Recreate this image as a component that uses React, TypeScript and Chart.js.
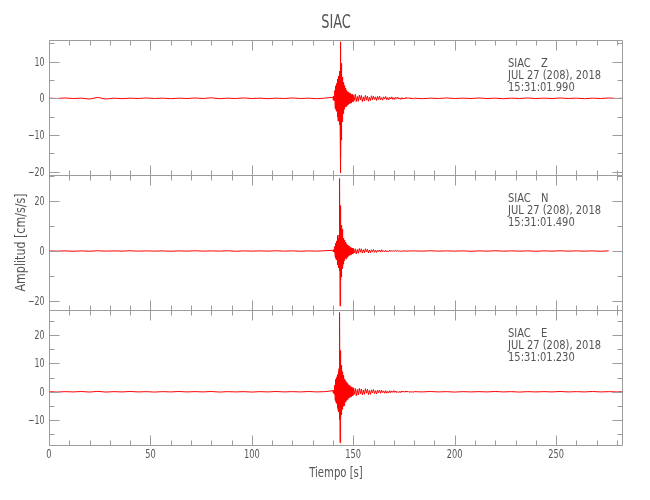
import React, { useEffect, useRef } from 'react';
import { Chart, registerables } from 'chart.js';

Chart.register(...registerables);

// ---------- text ----------
const stationName = 'SIAC';
const channelNames = ['Z', 'N', 'E'];
const dateLabel = 'JUL 27 (208), 2018';
const startTimes = ['15:31:01.990', '15:31:01.490', '15:31:01.230'];
const xTitle = 'Tiempo [s]';
const yTitle = 'Amplitud [cm/s/s]';

// ---------- axes ----------
const xMin = 0;
const xMax = 283;
const xTicks = [0, 50, 100, 150, 200, 250];
const zTicks = [10, 0, -10, -20];
const nTicks = [20, 0, -20];
const eTicks = [20, 10, 0, -10];
const zRange = [-20.9, 15.9];
const nRange = [-23.6, 30.4];
const eRange = [-18.8, 28.9];

// ---------- sampling of the hand-read segments (start time, step in s) ----------
const preSeg = [0, 4];
const eventSeg = [140, 0.1];
const codaSeg = [150, 0.5];
const postSeg = [180, 4];

// ---------- Z channel ----------
const zPre = [
  0.05, -0.05, 0.1, -0.05, 0.05,
  -0.2, 0.25, -0.2, 0.05, -0.1,
  0.05, -0.05, 0.1, -0.05, 0.05,
  -0.1, 0.05, -0.05, 0.1, -0.05,
  0.15, -0.1, 0.05, -0.05, 0.1,
  -0.05, 0.05, -0.1, 0.05, -0.05,
  0.1, -0.05, 0.05, -0.1, 0.05,
];
const zEvent = [
  0.3, -0.4, 0.5, -0.3, 0.6, -0.5, 0.4, -0.6, 0.8, -0.7,
  2.1, -2.8, 3.4, -1.9, 2.6, -3.1, 3.8, -2.4, 2.9, -3.5,
  4.2, -5.1, 3.6, -4.4, 5.3, -6.2, 4.8, -3.9, 6.1, -5.4,
  5.5, -7.2, 6.8, -4.6, 7.4, -6.1, 15.4, -20.3, 12.1, -16.2,
  9.5, -11.4, 7.2, -8.1, 6.3, -5.2, 4.9, -6.4, 5.8, -4.1,
  4.4, -3.9, 3.6, -4.2, 3.1, -2.8, 3.5, -3.0, 2.7, -2.4,
  2.5, -2.1, 2.8, -2.3, 1.9, -2.2, 2.0, -1.7, 2.2, -1.8,
  1.6, -1.9, 1.8, -1.4, 1.5, -1.6, 1.3, -1.5, 1.7, -1.2,
  1.4, -1.3, 1.2, -1.5, 1.1, -1.2, 1.3, -1.0, 1.2, -1.1,
  1.0, -1.1, 0.9, -1.2, 1.1, -0.9, 1.0, -0.8, 0.9, -1.0,
];
const zCoda = [
  0.9, -0.6, 1.1, -0.9, 0.5, -0.8, 0.9, -0.4, 0.8, -0.9,
  0.4, -0.7, 0.8, -0.5, 0.6, -0.8, 0.3, -0.6, 0.7, -0.4,
  0.6, -0.3, 0.4, -0.6, 0.5, -0.3, 0.6, -0.4, 0.2, -0.5,
  0.4, -0.2, 0.5, -0.4, 0.2, -0.4, 0.3, -0.2, 0.4, -0.3,
  0.2, -0.3, 0.3, -0.1, 0.3, -0.2, 0.1, -0.3, 0.2, -0.2,
  0.1, -0.2, 0.3, -0.1, 0.2, -0.1, 0.2, -0.2, 0.1, -0.2,
];
const zPost = [
  0.05, -0.1, 0.05, -0.05, 0.1,
  -0.05, 0.05, -0.05, 0.1, -0.05,
  0.05, -0.1, 0.05, -0.05, 0.1,
  -0.05, 0.05, -0.05, 0.1, -0.05,
  0.05, -0.1, 0.05, -0.05, 0.1,
  -0.05, 0.05,
];

// ---------- N channel ----------
const nPre = [
  0.05, -0.05, 0.05, -0.1, 0.05,
  -0.1, 0.1, -0.05, 0.05, -0.05,
  0.1, -0.05, 0.05, -0.05, 0.05,
  -0.1, 0.05, -0.05, 0.1, -0.05,
  0.05, -0.05, 0.1, -0.1, 0.05,
  -0.05, 0.05, -0.05, 0.1, -0.05,
  0.05, -0.1, 0.05, -0.05, 0.1,
];
const nEvent = [
  0.3, -0.2, 0.4, -0.3, 0.5, -0.4, 0.6, -0.5, 0.7, -0.6,
  1.8, -2.4, 3.1, -2.7, 2.2, -3.3, 3.9, -2.6, 2.8, -3.5,
  4.1, -4.8, 3.5, -5.6, 6.2, -4.3, 5.1, -6.8, 4.6, -5.2,
  6.4, -7.9, 8.5, -5.8, 29.0, -22.0, 18.2, -15.1, 12.4, -11.6,
  10.3, -9.2, 8.1, -10.4, 7.3, -6.5, 8.8, -7.1, 5.9, -6.2,
  5.2, -4.8, 4.6, -5.3, 4.1, -3.7, 4.4, -3.9, 3.5, -3.2,
  3.3, -2.9, 3.6, -2.7, 2.8, -3.1, 2.5, -2.4, 2.9, -2.2,
  2.4, -2.1, 2.2, -2.5, 1.9, -2.0, 2.1, -1.8, 1.7, -1.9,
  1.8, -1.6, 1.5, -1.7, 1.6, -1.4, 1.3, -1.5, 1.4, -1.2,
  1.3, -1.2, 1.1, -1.3, 1.2, -1.0, 1.1, -1.1, 0.9, -1.0,
];
const nCoda = [
  1.1, -0.7, 0.9, -1.2, 0.6, -0.9, 1.0, -0.5, 0.9, -0.8,
  0.5, -0.7, 0.9, -0.4, 0.7, -0.8, 0.4, -0.7, 0.5, -0.3,
  0.6, -0.5, 0.3, -0.6, 0.4, -0.2, 0.4, -0.4, 0.5, -0.3,
  0.2, -0.3, 0.3, -0.4, 0.1, -0.3, 0.3, -0.2, 0.2, -0.1,
  0.2, -0.2, 0.3, -0.1, 0.2, -0.2, 0.1, -0.2, 0.1, -0.2,
  0.2, -0.1, 0.1, -0.2, 0.1, -0.1, 0.1, -0.1, 0.2, -0.1,
];
const nPost = [
  0.05, -0.05, 0.1, -0.05, 0.05,
  -0.05, 0.05, -0.1, 0.05, -0.05,
  0.1, -0.05, 0.05, -0.05, 0.05,
  -0.1, 0.05, -0.05, 0.1, -0.05,
  0.05, -0.05, 0.05, -0.1, 0.05,
];

// ---------- E channel ----------
const ePre = [
  0.05, -0.1, 0.05, -0.05, 0.1,
  -0.1, 0.15, -0.1, 0.05, -0.05,
  0.1, -0.05, 0.05, -0.1, 0.05,
  -0.05, 0.1, -0.05, 0.05, -0.05,
  0.1, -0.1, 0.05, -0.05, 0.05,
  -0.1, 0.05, -0.05, 0.1, -0.05,
  0.05, -0.05, 0.1, -0.05, 0.05,
];
const eEvent = [
  0.4, -0.3, 0.5, -0.4, 0.6, -0.5, 0.7, -0.6, 0.8, -0.9,
  2.4, -3.1, 3.8, -2.6, 4.4, -3.7, 3.2, -4.1, 4.9, -3.6,
  5.3, -4.7, 6.1, -5.8, 4.9, -6.4, 7.2, -5.5, 6.6, -7.1,
  8.2, -6.9, 13.1, -9.8, 28.0, -18.0, 14.6, -10.3, 11.2, -8.9,
  9.4, -8.1, 7.6, -7.3, 8.3, -6.2, 6.8, -5.9, 7.1, -5.4,
  5.8, -5.1, 5.3, -4.6, 4.8, -4.9, 4.2, -3.8, 4.5, -3.6,
  3.9, -3.4, 3.5, -3.7, 3.2, -2.9, 3.4, -3.1, 2.8, -2.7,
  2.9, -2.5, 2.6, -2.8, 2.4, -2.2, 2.5, -2.3, 2.1, -2.0,
  2.2, -1.9, 2.0, -2.1, 1.8, -1.7, 1.9, -1.8, 1.6, -1.7,
  1.7, -1.5, 1.6, -1.6, 1.4, -1.5, 1.5, -1.3, 1.4, -1.2,
];
const eCoda = [
  1.4, -0.9, 1.2, -1.4, 0.8, -1.1, 1.2, -0.7, 1.0, -1.1,
  0.6, -0.9, 1.1, -0.5, 0.9, -1.0, 0.5, -0.9, 0.7, -0.4,
  0.8, -0.6, 0.4, -0.8, 0.6, -0.3, 0.6, -0.5, 0.6, -0.3,
  0.3, -0.5, 0.4, -0.5, 0.2, -0.4, 0.4, -0.3, 0.3, -0.2,
  0.4, -0.2, 0.3, -0.3, 0.1, -0.3, 0.2, -0.3, 0.3, -0.1,
  0.2, -0.2, 0.3, -0.1, 0.2, -0.2, 0.1, -0.2, 0.1, -0.2,
];
const ePost = [
  0.05, -0.05, 0.1, -0.05, 0.05,
  -0.1, 0.05, -0.05, 0.05, -0.05,
  0.1, -0.05, 0.05, -0.1, 0.05,
  -0.05, 0.05, -0.05, 0.1, -0.05,
  0.05, -0.05, 0.1, -0.05, 0.05,
  -0.05, 0.05,
];

// ---------- style ----------
const FONT = "'DejaVu Sans Condensed', 'DejaVu Sans', sans-serif";
const AXIS_COLOR = '#9c9c9c';
const TEXT_COLOR = '#555555';
const WAVE_COLOR = '#ff0000';
const panelIds = ['yZ', 'yN', 'yE'];
const majorSteps = [10, 20, 10];
const minorSteps = [5, 10, 5];

function segment(values: number[], seg: number[]) {
  return values.map((v, i) => ({ x: seg[0] + i * seg[1], y: v }));
}
function trace(pre: number[], ev: number[], coda: number[], post: number[]) {
  return [
    ...segment(pre, preSeg),
    ...segment(ev, eventSeg),
    ...segment(coda, codaSeg),
    ...segment(post, postSeg),
  ];
}

function drawText(
  ctx: CanvasRenderingContext2D,
  text: string,
  x: number,
  y: number,
  size: number,
  sx: number,
  align: CanvasTextAlign,
  baseline: CanvasTextBaseline = 'alphabetic',
) {
  ctx.save();
  ctx.translate(x, y);
  ctx.scale(sx, 1);
  ctx.font = `${size}px ${FONT}`;
  ctx.textAlign = align;
  ctx.textBaseline = baseline;
  ctx.fillText(text, 0, 0);
  ctx.restore();
}

const fmt = (v: number) => String(v).replace('-', '\u2212');

const idlPlugin = {
  id: 'idlPanels',
  afterDatasetsDraw(chart: any) {
    const ctx = chart.ctx as CanvasRenderingContext2D;
    const area = chart.chartArea;
    const xs = chart.scales.x;
    ctx.save();
    ctx.strokeStyle = AXIS_COLOR;
    ctx.fillStyle = TEXT_COLOR;
    ctx.lineWidth = 1;
    const left = Math.round(area.left) + 0.5;
    const right = Math.round(area.right) - 0.5;
    panelIds.forEach((id, k) => {
      const ys = chart.scales[id];
      const top = Math.round(ys.top) + 0.5;
      const bottom = Math.round(ys.bottom) + 0.5;
      ctx.beginPath();
      ctx.rect(left, top, right - left, bottom - top);
      for (let v = xMin; v <= xMax; v += 10) {
        const px = Math.round(xs.getPixelForValue(v)) + 0.5;
        const len = v % 50 === 0 ? 10 : 5;
        ctx.moveTo(px, top);
        ctx.lineTo(px, top + len);
        ctx.moveTo(px, bottom);
        ctx.lineTo(px, bottom - len);
      }
      const minor = minorSteps[k];
      const major = majorSteps[k];
      for (let v = Math.ceil(ys.min / minor) * minor; v <= ys.max; v += minor) {
        const py = Math.round(ys.getPixelForValue(v)) + 0.5;
        const len = Math.abs(v % major) < 1e-6 ? 10 : 5;
        ctx.moveTo(left, py);
        ctx.lineTo(left + len, py);
        ctx.moveTo(right, py);
        ctx.lineTo(right - len, py);
      }
      ctx.stroke();

      // y tick labels from the scale's ticks
      ys.ticks.forEach((t: any) => {
        const py = ys.getPixelForValue(t.value);
        drawText(ctx, fmt(t.value), area.left - 4.5, py + 4, 11.5, 0.76, 'right');
      });

      // station / channel annotation
      const tx = area.right - 115;
      drawText(ctx, stationName, tx, ys.top + 27, 13, 0.85, 'left');
      drawText(ctx, channelNames[k], tx + 33, ys.top + 27, 13, 0.85, 'left');
      drawText(ctx, dateLabel, tx, ys.top + 39, 13, 0.85, 'left');
      drawText(ctx, startTimes[k], tx, ys.top + 51, 13, 0.85, 'left');
    });

    // x tick labels
    xs.ticks.forEach((t: any) => {
      const px = xs.getPixelForValue(t.value);
      drawText(ctx, fmt(t.value), px, area.bottom + 13, 11.5, 0.8, 'center');
    });

    // axis titles
    drawText(ctx, xTitle, (area.left + area.right) / 2, 477, 14, 0.8, 'center');
    const yn = chart.scales.yN;
    ctx.save();
    ctx.translate(21, (yn.top + yn.bottom) / 2);
    ctx.rotate(-Math.PI / 2);
    drawText(ctx, yTitle, 0, 0, 14, 0.88, 'center', 'middle');
    ctx.restore();

    // main title
    drawText(ctx, stationName, (area.left + area.right) / 2, 28, 20, 0.72, 'center');

    ctx.restore();
  },
};

function yScale(range: number[], ticks: number[]) {
  return {
    type: 'linear',
    position: 'left',
    stack: 'wave',
    stackWeight: 1,
    min: range[0],
    max: range[1],
    grid: { display: false, drawTicks: false },
    border: { display: false },
    afterBuildTicks: (s: any) => {
      s.ticks = ticks.map((v) => ({ value: v }));
    },
    afterFit: (s: any) => {
      s.width = 49;
    },
    ticks: { display: false },
  };
}

export default function App() {
  const ref = useRef<HTMLCanvasElement>(null);
  useEffect(() => {
    const ds = (data: any[], yAxisID: string) => ({
      data,
      xAxisID: 'x',
      yAxisID,
      borderColor: WAVE_COLOR,
      borderWidth: 1,
      pointRadius: 0,
      fill: false,
      tension: 0,
    });
    const chart = new Chart(ref.current as HTMLCanvasElement, {
      type: 'line',
      data: {
        datasets: [
          ds(trace(zPre, zEvent, zCoda, zPost), 'yZ'),
          ds(trace(nPre, nEvent, nCoda, nPost), 'yN'),
          ds(trace(ePre, eEvent, eCoda, ePost), 'yE'),
        ],
      },
      options: {
        animation: false,
        responsive: false,
        devicePixelRatio: 1,
        layout: { padding: { top: 40, right: 27, left: 0, bottom: 0 } },
        plugins: {
          legend: { display: false },
          title: { display: false },
          tooltip: { enabled: false },
        },
        events: [],
        scales: {
          x: {
            type: 'linear',
            position: 'bottom',
            min: xMin,
            max: xMax,
            grid: { display: false, drawTicks: false },
            border: { display: false },
            afterBuildTicks: (s: any) => {
              s.ticks = xTicks.map((v) => ({ value: v }));
            },
            afterFit: (s: any) => {
              s.height = 55;
            },
            ticks: { display: false },
          },
          // stacked panels are laid out bottom-up in declaration order
          yE: yScale(eRange, eTicks),
          yN: yScale(nRange, nTicks),
          yZ: yScale(zRange, zTicks),
        } as any,
      },
      plugins: [idlPlugin],
    });
    return () => chart.destroy();
  }, []);
  return (
    <div style={{ position: 'absolute', left: 0, top: 0, width: 650, height: 500, background: '#fff' }}>
      <canvas ref={ref} width={650} height={500} style={{ display: 'block', width: 650, height: 500 }} />
    </div>
  );
}
